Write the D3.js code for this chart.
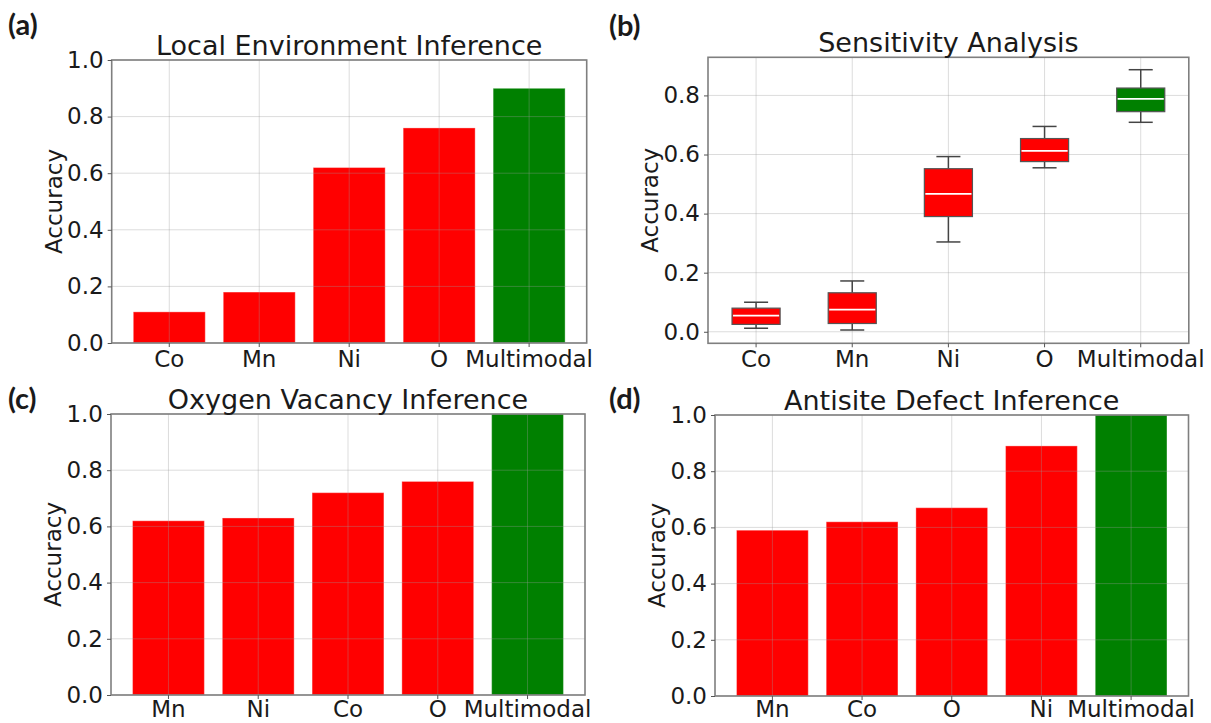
<!DOCTYPE html>
<html><head><meta charset="utf-8">
<script src="https://cdn.jsdelivr.net/npm/d3@7"></script>
<style>
html,body{margin:0;padding:0;background:#fff;}
svg{display:block;}
text{font-family:"DejaVu Sans",sans-serif;fill:#1a1a1a;}
</style></head>
<body>
<svg id="chart" width="1211" height="723"></svg>
<script>
// ---- data ----
const catsA = ["Co","Mn","Ni","O","Multimodal"];
const valsA = [0.11,0.18,0.62,0.76,0.90];

const catsB = ["Co","Mn","Ni","O","Multimodal"];
const whiskLoB = [0.012,0.006,0.304,0.555,0.709];
const q1B      = [0.025,0.028,0.390,0.576,0.745];
const medB     = [0.055,0.075,0.467,0.612,0.788];
const q3B      = [0.080,0.132,0.552,0.654,0.825];
const whiskHiB = [0.100,0.172,0.593,0.695,0.887];

const catsC = ["Mn","Ni","Co","O","Multimodal"];
const valsC = [0.62,0.63,0.72,0.76,1.0];

const catsD = ["Mn","Co","O","Ni","Multimodal"];
const valsD = [0.59,0.62,0.67,0.89,1.0];

const ticksBar = [0,0.2,0.4,0.6,0.8,1.0];
const ticksBox = [0,0.2,0.4,0.6,0.8];
const yDomainBar = [0,1];
const yDomainBox = [-0.039,0.929];

const titles = ["Local Environment Inference","Sensitivity Analysis","Oxygen Vacancy Inference","Antisite Defect Inference"];
const panelLabels = ["(a)","(b)","(c)","(d)"];
const yLabel = "Accuracy";

// ---- layout ----
const svg = d3.select("#chart");
const RED = "#ff0000", GREEN = "#008000";
const frames = [
  {l:111.7, r:586.7, t:60,   b:343,   lab:[8,35],   xl:367},
  {l:708,   r:1188.8,t:57.3, b:343.3, lab:[609,36], xl:367},
  {l:111,   r:585,   t:414,  b:695,   lab:[8,409],  xl:717},
  {l:715,   r:1188.5,t:415,  b:696,   lab:[609,409],xl:717}
];

function setupAxes(f, y, yticks, title, label){
  const g = svg.append("g");
  const ya = d3.axisLeft(y).tickValues(yticks).tickFormat(d3.format(".1f")).tickSize(4).tickPadding(4);
  const yg = g.append("g").attr("transform",`translate(${f.l},0)`).call(ya);
  yg.select(".domain").remove();
  yg.selectAll("line").attr("stroke","#555");
  yg.selectAll("text").style("font-size","23px").attr("fill","#1a1a1a").style("font-family","DejaVu Sans");
  g.append("text").attr("x",(f.l+f.r)/2).attr("y",f.t-5).attr("text-anchor","middle")
    .style("font-size","27px").text(title);
  g.append("text").attr("transform",`translate(${f.l-50},${(f.t+f.b)/2}) rotate(-90)`)
    .attr("text-anchor","middle").style("font-size","23px").text(yLabel);
  g.append("text").attr("x",f.lab[0]).attr("y",f.lab[1])
    .style("font-family","Lato, 'Liberation Sans', sans-serif").style("font-weight","bold")
    .style("font-size","29px").attr("fill","#000").text(label);
  return g;
}

function xAxis(f, centers, cats){
  const g = svg.append("g");
  cats.forEach((c,i)=>{
    g.append("line").attr("x1",centers[i]).attr("x2",centers[i]).attr("y1",f.b).attr("y2",f.b+4).attr("stroke","#555");
    g.append("text").attr("x",centers[i]).attr("y",f.xl).attr("text-anchor","middle").style("font-size","23px").text(c);
  });
}

function grid(f, centers, y, yticks){
  const g = svg.append("g").attr("stroke","#9a9a9a").attr("stroke-opacity",0.35).attr("stroke-width",1);
  yticks.forEach(t=>{ g.append("line").attr("x1",f.l).attr("x2",f.r).attr("y1",y(t)).attr("y2",y(t)); });
  centers.forEach(cx=>{ g.append("line").attr("x1",cx).attr("x2",cx).attr("y1",f.t).attr("y2",f.b); });
}

function frame(f){
  svg.append("rect").attr("x",f.l).attr("y",f.t).attr("width",f.r-f.l).attr("height",f.b-f.t)
    .attr("fill","none").attr("stroke","#7f7f7f").attr("stroke-width",1.6);
}

function barPanel(idx, cats, vals){
  const f = frames[idx];
  const x = d3.scaleBand().domain(cats).range([f.l,f.r]).paddingInner(0.2).paddingOuter(0.24);
  const y = d3.scaleLinear().domain(yDomainBar).range([f.b,f.t]);
  const clipId = "clip"+idx;
  svg.append("clipPath").attr("id",clipId).append("rect").attr("x",f.l).attr("y",f.t).attr("width",f.r-f.l).attr("height",f.b-f.t);
  svg.append("g").attr("clip-path",`url(#${clipId})`).selectAll("rect").data(cats).join("rect")
    .attr("x",d=>x(d)).attr("width",x.bandwidth())
    .attr("y",(d,i)=>y(vals[i])).attr("height",(d,i)=>y(0)-y(vals[i]))
    .attr("fill",d=>d==="Multimodal"?GREEN:RED)
    .attr("stroke","#fff").attr("stroke-opacity",0.35).attr("stroke-width",1);
  const centers = cats.map(c=>x(c)+x.bandwidth()/2);
  grid(f, centers, y, ticksBar);
  frame(f);
  setupAxes(f, y, ticksBar, titles[idx], panelLabels[idx]);
  xAxis(f, centers, cats);
}

function boxPanel(idx){
  const f = frames[idx];
  const x = d3.scalePoint().domain(catsB).range([f.l,f.r]).padding(0.5);
  const y = d3.scaleLinear().domain(yDomainBox).range([f.b,f.t]);
  const step = x.step();
  const centers = catsB.map(c=>x(c));
  grid(f, centers, y, ticksBox);
  const g = svg.append("g");
  catsB.forEach((c,i)=>{
    const cx = x(c), bw = step*0.5, cw = step*0.25;
    g.append("line").attr("x1",cx).attr("x2",cx).attr("y1",y(q3B[i])).attr("y2",y(whiskHiB[i])).attr("stroke","#444").attr("stroke-width",1.5);
    g.append("line").attr("x1",cx).attr("x2",cx).attr("y1",y(q1B[i])).attr("y2",y(whiskLoB[i])).attr("stroke","#444").attr("stroke-width",1.5);
    g.append("line").attr("x1",cx-cw/2).attr("x2",cx+cw/2).attr("y1",y(whiskHiB[i])).attr("y2",y(whiskHiB[i])).attr("stroke","#444").attr("stroke-width",1.5);
    g.append("line").attr("x1",cx-cw/2).attr("x2",cx+cw/2).attr("y1",y(whiskLoB[i])).attr("y2",y(whiskLoB[i])).attr("stroke","#444").attr("stroke-width",1.5);
    g.append("rect").attr("x",cx-bw/2).attr("width",bw).attr("y",y(q3B[i])).attr("height",y(q1B[i])-y(q3B[i]))
      .attr("fill",c==="Multimodal"?GREEN:RED).attr("stroke","#555").attr("stroke-width",1.2);
    g.append("line").attr("x1",cx-bw/2+1).attr("x2",cx+bw/2-1).attr("y1",y(medB[i])).attr("y2",y(medB[i])).attr("stroke","#fff").attr("stroke-width",1.8);
  });
  frame(f);
  setupAxes(f, y, ticksBox, titles[idx], panelLabels[idx]);
  xAxis(f, centers, catsB);
}

barPanel(0, catsA, valsA);
boxPanel(1);
barPanel(2, catsC, valsC);
barPanel(3, catsD, valsD);
</script>
</body></html>
